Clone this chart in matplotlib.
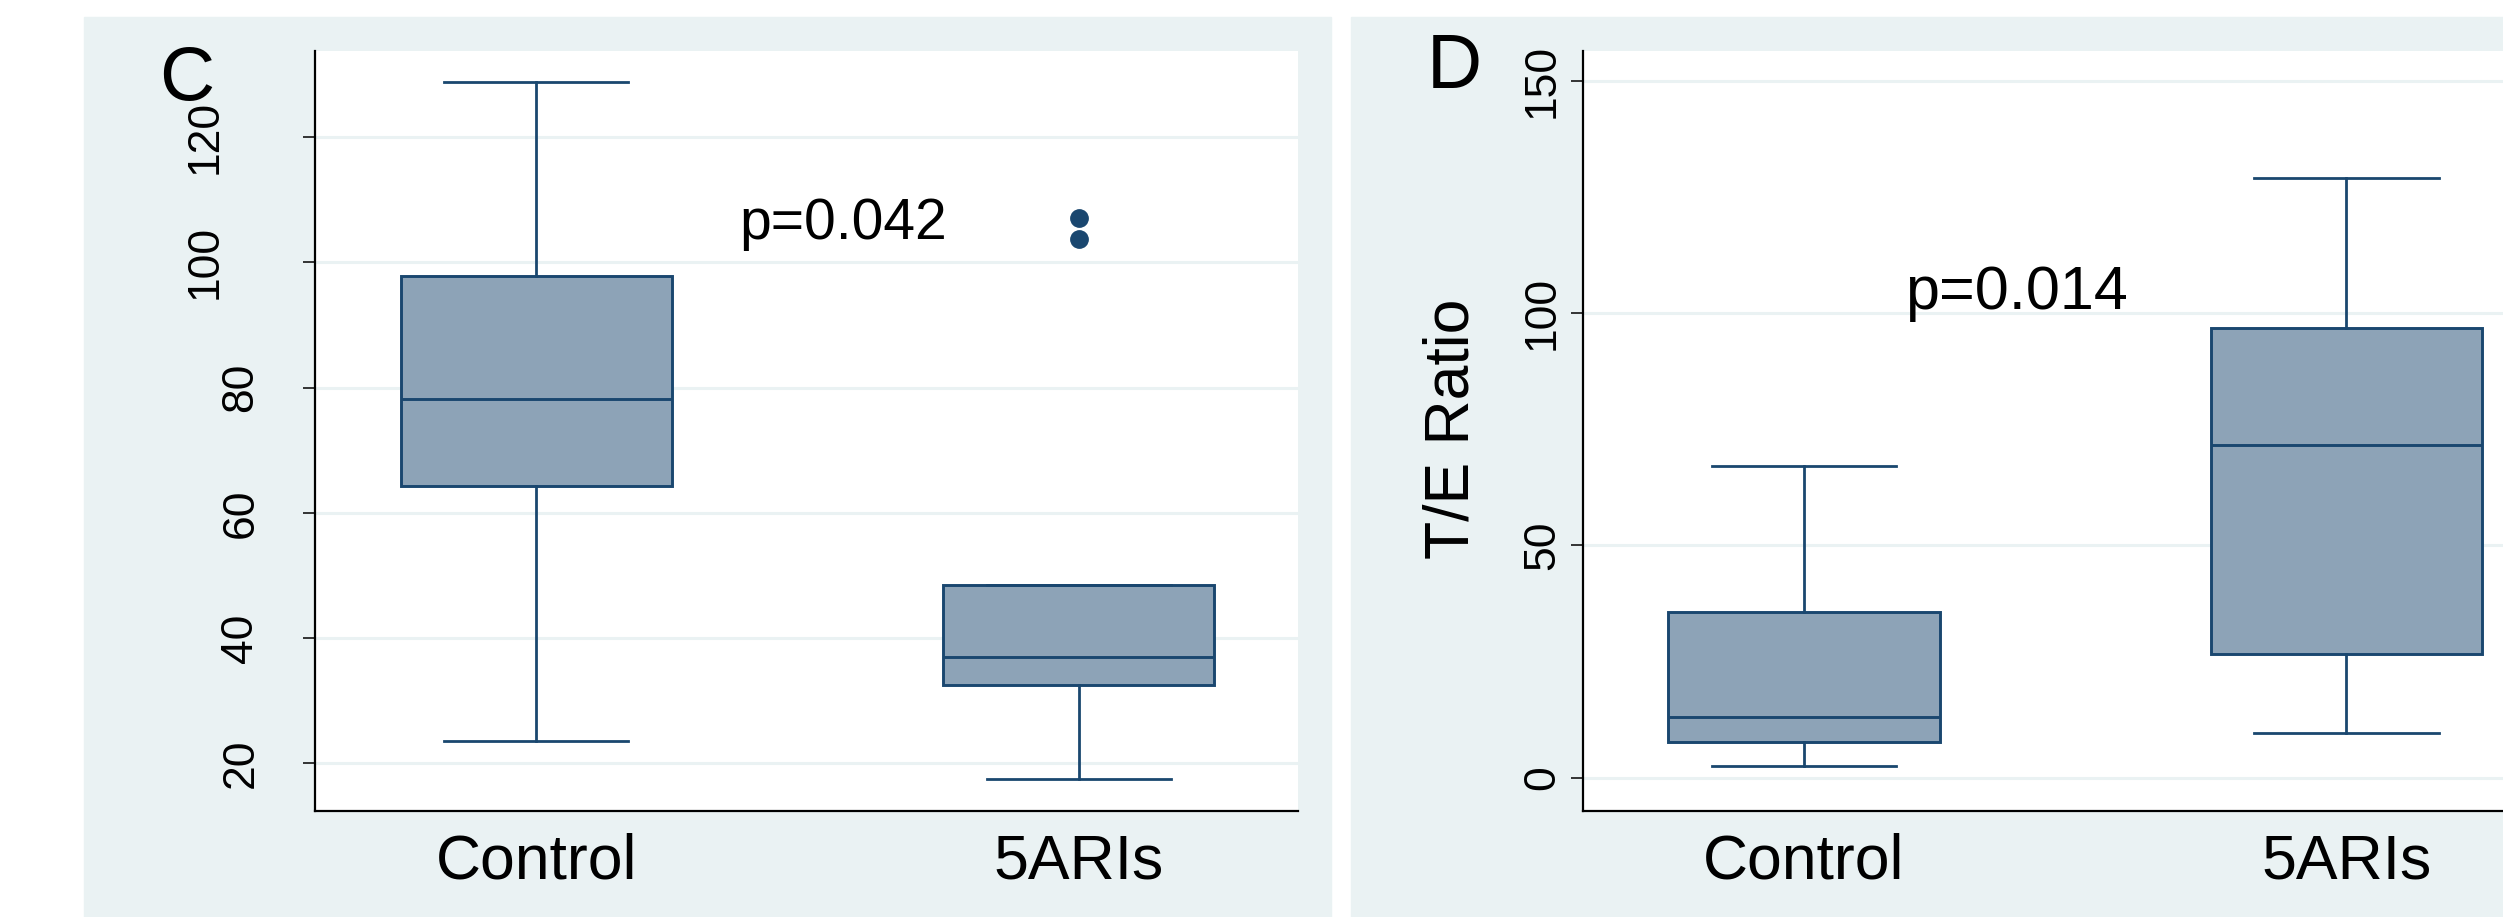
import matplotlib
matplotlib.use("Agg")
import matplotlib.pyplot as plt
from matplotlib.patches import Rectangle

plt.rcParams['font.family'] = ['Liberation Sans', 'DejaVu Sans']

# Panel C
groups = ["Control", "5ARIs"]
c_whislo = [23.5, 17.5]
c_q1 = [64.3, 32.5]
c_med = [78.2, 37.0]
c_q3 = [97.9, 48.4]
c_whishi = [128.8, 48.4]
c_fliers = [[], [103.8, 107.1]]
c_ticks = [20, 40, 60, 80, 100, 120]
c_pvalue = "p=0.042"

# Panel D
d_whislo = [2.5, 9.6]
d_q1 = [7.7, 26.7]
d_med = [13.0, 71.6]
d_q3 = [35.7, 96.9]
d_whishi = [67.0, 129.0]
d_fliers = [[], []]
d_ticks = [0, 50, 100, 150]
d_pvalue = "p=0.014"

navy = "#1A476F"
box_fill = "#8DA3B7"
bg = "#EAF2F3"
W, H = 2503, 917


def make_stats(whislo, q1, med, q3, whishi, fliers):
    stats = []
    for i in range(len(groups)):
        stats.append({"whislo": whislo[i], "q1": q1[i], "med": med[i], "q3": q3[i],
                      "whishi": whishi[i], "fliers": fliers[i], "label": groups[i]})
    return stats


def draw_panel(ax, stats, ticks, ylim):
    ax.bxp(stats, positions=[1, 2], widths=0.5, capwidths=0.34, patch_artist=True,
           boxprops=dict(facecolor=box_fill, edgecolor=navy, linewidth=2.1),
           medianprops=dict(color=navy, linewidth=2.1),
           whiskerprops=dict(color=navy, linewidth=2.0),
           capprops=dict(color=navy, linewidth=2.0),
           flierprops=dict(marker='o', markerfacecolor=navy, markeredgecolor=navy, markersize=12.5),
           zorder=3)
    ax.set_xlim(0.5924, 2.404)
    ax.set_ylim(*ylim)
    ax.set_yticks(ticks)
    ax.set_yticklabels([str(t) for t in ticks], rotation=90, va='center', fontsize=32)
    ax.yaxis.grid(True, color=bg, linewidth=2.2, zorder=0)
    ax.set_axisbelow(True)
    ax.tick_params(axis='y', direction='out', length=8.6, width=1.4, color='#333333')
    ax.tick_params(axis='x', length=0, pad=16, labelsize=45)
    for side in ['top', 'right']:
        ax.spines[side].set_visible(False)
    for side in ['left', 'bottom']:
        ax.spines[side].set_linewidth(1.6)
        ax.spines[side].set_color('black')


fig = plt.figure(figsize=(W / 100, H / 100), dpi=100)
fig.patch.set_facecolor('white')
fig.add_artist(Rectangle((84 / W, 0), (1331 - 84) / W, 1 - 16.7 / H,
                         transform=fig.transFigure, color=bg, zorder=-10))
fig.add_artist(Rectangle((1351 / W, 0), (W - 1351) / W, 1 - 16.7 / H,
                         transform=fig.transFigure, color=bg, zorder=-10))

ax1 = fig.add_axes([315 / W, 1 - 810.7 / H, 983 / W, 760 / H])
draw_panel(ax1, make_stats(c_whislo, c_q1, c_med, c_q3, c_whishi, c_fliers),
           c_ticks, (12.43, 133.8))
# three-digit labels sit further from the axis in this panel
for tick, t in zip(ax1.yaxis.get_major_ticks(), c_ticks):
    tick.set_pad(56 if t >= 100 else 30)
ax1.text(1.374, 103.75, c_pvalue, fontsize=41, va='baseline', ha='left')

ax2 = fig.add_axes([1582.7 / W, 1 - 810.7 / H, 983 / W, 760 / H])
draw_panel(ax2, make_stats(d_whislo, d_q1, d_med, d_q3, d_whishi, d_fliers),
           d_ticks, (-7.1, 156.5))
for tick in ax2.yaxis.get_major_ticks():
    tick.set_pad(5.5)
ax2.text(1.1864, 100.9, d_pvalue, fontsize=44, va='baseline', ha='left')

fig.text(187 / W, 1 - 45 / H, "C", fontsize=55, ha='center', va='top')
fig.text(1454 / W, 1 - 33 / H, "D", fontsize=55, ha='center', va='top')
fig.text(1452 / W, 1 - 429 / H, "T/E Ratio", fontsize=45, rotation=90, ha='center', va='center')

fig.savefig("out.png", dpi=100)
